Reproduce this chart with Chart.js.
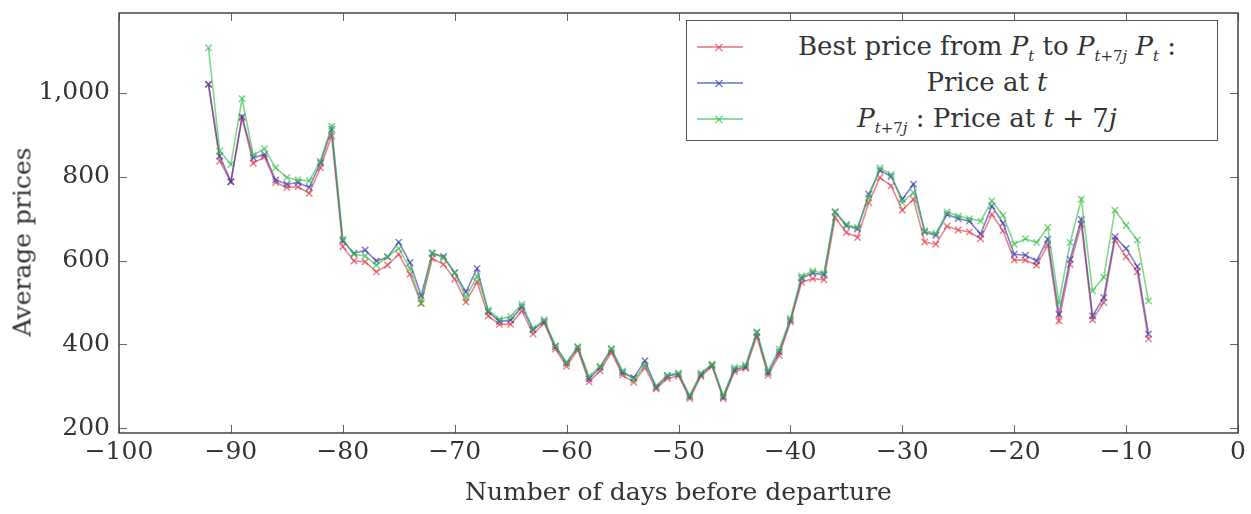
<!DOCTYPE html>
<html>
<head>
<meta charset="utf-8">
<script src="https://cdn.jsdelivr.net/npm/chart.js@4"></script>
<style>
  body { margin: 0; background: #fff; }
  #wrap { position: relative; width: 1251px; height: 514px; }
  #legend {
    position: absolute; left: 686px; top: 20px; width: 530px; height: 119px;
    border: 1.5px solid #555; background: #fff;
    font-family: 'DejaVu Serif', serif; font-size: 26px; color: #333;
  }
  .row { position: absolute; left: 0; width: 100%; height: 36px; line-height: 36px; }
  .sample { position: absolute; left: 10px; top: 18px; width: 46px; height: 0; border-top: 2px solid; }
  .sample span { position: absolute; left: 16px; top: -11px; font-size: 14px; line-height: 20px; font-family: 'DejaVu Sans', sans-serif; }
  .txt { position: absolute; left: 70px; right: 0; text-align: center; }
  sub { font-size: 15px; line-height: 0; }
  #ytitle {
    position: absolute; left: 22px; top: 242px; transform: translate(-50%, -50%) rotate(-90deg);
    font-family: 'DejaVu Serif', serif; font-size: 25px; color: #333; white-space: nowrap;
  }
</style>
</head>
<body>
<div id="wrap">
  <canvas id="chart" width="1251" height="514"></canvas>
  <div id="ytitle">Average prices</div>
  <div id="legend">
    <div class="row" style="top:7px">
      <div class="sample" style="border-color:rgba(225,60,70,0.55);color:rgba(225,60,70,0.8)"><span>×</span></div>
      <div class="txt">Best price from <i>P</i><sub><i>t</i></sub> to <i>P</i><sub><i>t</i>+7<i>j</i></sub> <i>P</i><sub><i>t</i></sub> :</div>
    </div>
    <div class="row" style="top:43px">
      <div class="sample" style="border-color:rgba(50,60,175,0.55);color:rgba(50,60,175,0.8)"><span>×</span></div>
      <div class="txt">Price at <i>t</i></div>
    </div>
    <div class="row" style="top:79px">
      <div class="sample" style="border-color:rgba(50,190,70,0.55);color:rgba(50,190,70,0.8)"><span>×</span></div>
      <div class="txt"><i>P</i><sub><i>t</i>+7<i>j</i></sub> : Price at <i>t</i> + 7<i>j</i></div>
    </div>
  </div>
</div>
<script>
// days before departure
const days = [];
for (let d = -92; d <= -8; d++) days.push(d);

const bestPrice = [
  1020, 837, 788, 940, 832, 847, 786, 774, 776, 760, 821, 897,
  633, 599, 597, 573, 589, 615, 567, 498, 605, 591, 556, 501, 549,
  468, 448, 448, 480, 425, 451, 389, 348, 387, 311, 337, 381, 327,
  310, 345, 294, 319, 325, 271, 324, 348, 271, 335, 343, 419, 327,
  374, 454, 548, 557, 554, 702, 667, 655, 738, 798, 778, 720, 746,
  644, 639, 682, 673, 668, 652, 710, 671, 601, 601, 589, 637, 456,
  591, 686, 459, 500, 649, 609, 573, 413
];
const priceAtT = [
  1020, 849, 788, 943, 845, 853, 792, 782, 786, 774, 833, 913,
  647, 617, 625, 599, 608, 644, 595, 516, 617, 610, 571, 525, 581,
  478, 455, 458, 490, 435, 455, 395, 355, 393, 318, 345, 388, 333,
  321, 361, 298, 325, 330, 276, 328, 352, 275, 340, 347, 428, 333,
  382, 458, 558, 570, 566, 716, 683, 675, 758, 815, 800, 746, 782,
  668, 660, 710, 700, 694, 663, 730, 689, 615, 613, 599, 651, 472,
  603, 698, 468, 512, 657, 629, 586, 425
];
const priceAtT7j = [
  1107, 861, 829, 986, 851, 867, 821, 798, 792, 790, 837, 920,
  651, 615, 611, 589, 610, 629, 581, 498, 619, 606, 571, 512, 563,
  482, 460, 467, 496, 438, 459, 397, 357, 395, 324, 348, 390, 337,
  316, 351, 301, 327, 332, 279, 332, 353, 278, 345, 351, 430, 337,
  389, 462, 563, 575, 570, 716, 686, 679, 750, 821, 805, 738, 762,
  671, 665, 716, 706, 700, 694, 742, 708, 639, 652, 643, 679, 500,
  643, 746, 528, 560, 720, 684, 649, 504
];
const yTicks = [200, 400, 600, 800, 1000];

function series(vals) {
  return vals.map((v, i) => ({ x: days[i], y: v }));
}

function ds(label, vals, color, order) {
  return {
    label,
    data: series(vals),
    borderColor: color,
    backgroundColor: color,
    borderWidth: 1.6,
    pointStyle: 'crossRot',
    pointRadius: 4.5,
    pointBorderWidth: 1.5,
    pointBorderColor: color,
    tension: 0,
    order
  };
}

// box round the plot + inward ticks on all four sides
const frame = {
  id: 'frame',
  afterDraw(chart) {
    const { ctx, chartArea: a, scales } = chart;
    ctx.save();
    ctx.strokeStyle = '#666';
    ctx.lineWidth = 1;
    const L = 8;
    ctx.beginPath();
    scales.x.ticks.forEach(t => {
      const px = Math.round(scales.x.getPixelForValue(t.value)) + 0.5;
      ctx.moveTo(px, a.bottom); ctx.lineTo(px, a.bottom - L);
      ctx.moveTo(px, a.top); ctx.lineTo(px, a.top + L);
    });
    scales.y.ticks.forEach(t => {
      const py = Math.round(scales.y.getPixelForValue(t.value)) + 0.5;
      ctx.moveTo(a.left, py); ctx.lineTo(a.left + L, py);
      ctx.moveTo(a.right, py); ctx.lineTo(a.right - L, py);
    });
    ctx.stroke();
    ctx.lineWidth = 1.5;
    ctx.strokeStyle = '#444';
    ctx.strokeRect(a.left, a.top, a.right - a.left, a.bottom - a.top);
    ctx.restore();
  }
};

Chart.defaults.font.family = "'DejaVu Serif', serif";
Chart.defaults.color = '#333';

new Chart(document.getElementById('chart'), {
  type: 'line',
  data: {
    datasets: [
      ds('Best price', bestPrice, 'rgba(225,50,60,0.6)', 3),
      ds('Price at t', priceAtT, 'rgba(45,45,170,0.6)', 2),
      ds('Price at t+7j', priceAtT7j, 'rgba(45,190,60,0.6)', 1)
    ]
  },
  options: {
    responsive: false,
    animation: false,
    layout: { padding: { top: 13, right: 13, left: 0, bottom: 0 } },
    plugins: { legend: { display: false }, tooltip: { enabled: false } },
    scales: {
      x: {
        type: 'linear',
        min: -100, max: 0,
        afterFit: s => { s.height = 81; s.paddingLeft = 0; s.paddingRight = 0; },
        grid: { display: false, drawTicks: false },
        border: { display: false },
        ticks: {
          stepSize: 10, padding: 4,
          font: { size: 25 },
          callback: v => String(v).replace('-', '\u2212')
        },
        title: { display: true, text: 'Number of days before departure', font: { size: 25 }, padding: { top: 6, bottom: 6 } }
      },
      y: {
        min: 189, max: 1190,
        afterFit: s => { s.width = 119; s.paddingTop = 0; s.paddingBottom = 0; },
        afterBuildTicks: s => { s.ticks = yTicks.map(v => ({ value: v })); },
        grid: { display: false, drawTicks: false },
        border: { display: false },
        ticks: { padding: 9, font: { size: 25 } },
        title: { display: false }
      }
    }
  },
  plugins: [frame]
});
</script>
</body>
</html>
